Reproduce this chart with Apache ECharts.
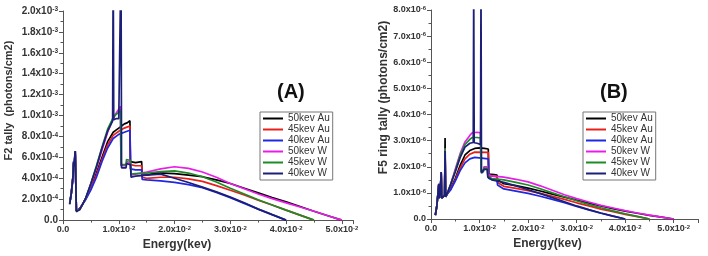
<!DOCTYPE html>
<html><head><meta charset="utf-8">
<script src="https://cdn.jsdelivr.net/npm/echarts@6/dist/echarts.min.js"></script>
<style>html,body{margin:0;padding:0;background:#fff}#c{width:708px;height:256px}</style>
</head><body><div id="c"></div>
<script>
const NAMES = ['50kev Au','45kev Au','40kev Au','50kev W','45kev W','40kev W'];
const COLORS = ['#000000','#e8201c','#1f28e0','#e81ee8','#1e8a28','#1c1f78'];
const X_TICKS = ['0.0','1.0x10^-2','2.0x10^-2','3.0x10^-2','4.0x10^-2','5.0x10^-2'];
const Y_TICKS_A = ['0.0','2.0x10^-4','4.0x10^-4','6.0x10^-4','8.0x10^-4','1.0x10^-3','1.2x10^-3','1.4x10^-3','1.6x10^-3','1.8x10^-3','2.0x10^-3'];
const Y_TICKS_B = ['0.0','1.0x10^-6','2.0x10^-6','3.0x10^-6','4.0x10^-6','5.0x10^-6','6.0x10^-6','7.0x10^-6','8.0x10^-6'];

// Panel A: F2 tally (x: energy, y: photons/cm2)
const a50Au = [[0.0012,1.6e-4],[0.0015,2.6e-4],[0.0018,4.2e-4],[0.0019,5.5e-4],[0.002,5.0e-4],[0.0021,6.0e-4],[0.0022,6.6e-4],[0.0023,3.5e-4],[0.0024,0.9e-4],[0.0027,0.9e-4],[0.003,1.1e-4],[0.0035,1.5e-4],[0.004,2.0e-4],[0.005,3.1e-4],[0.006,4.5e-4],[0.007,6.0e-4],[0.008,7.5e-4],[0.009,8.4e-4],[0.0095,8.6e-4],[0.01,8.8e-4],[0.0105,9.0e-4],[0.011,9.2e-4],[0.0115,9.3e-4],[0.012,9.5e-4],[0.0121,5.6e-4],[0.013,5.5e-4],[0.0141,5.6e-4],[0.0142,4.3e-4],[0.015,4.3e-4],[0.0165,4.5e-4],[0.018,4.5e-4],[0.02,4.45e-4],[0.0225,4.3e-4],[0.025,4.15e-4],[0.0275,3.85e-4],[0.03,3.5e-4],[0.0325,3.05e-4],[0.035,2.6e-4],[0.0375,2.15e-4],[0.04,1.75e-4],[0.0425,1.3e-4],[0.045,0.85e-4],[0.0475,0.42e-4],[0.05,0]];
const a45Au = [[0.0012,1.6e-4],[0.0015,2.6e-4],[0.0018,4.2e-4],[0.0019,5.4e-4],[0.002,5.0e-4],[0.0021,5.8e-4],[0.0022,6.2e-4],[0.0023,3.4e-4],[0.0024,0.9e-4],[0.0027,0.9e-4],[0.003,1.1e-4],[0.0035,1.5e-4],[0.004,2.0e-4],[0.005,3.0e-4],[0.006,4.3e-4],[0.007,5.8e-4],[0.008,7.2e-4],[0.009,8.1e-4],[0.01,8.5e-4],[0.011,8.8e-4],[0.012,9.0e-4],[0.0121,5.3e-4],[0.013,5.2e-4],[0.0141,5.2e-4],[0.0142,4.1e-4],[0.015,4.0e-4],[0.0175,4.1e-4],[0.02,4.1e-4],[0.0225,3.95e-4],[0.025,3.7e-4],[0.0275,3.3e-4],[0.03,2.85e-4],[0.0325,2.4e-4],[0.035,1.9e-4],[0.0375,1.45e-4],[0.04,0.95e-4],[0.0425,0.48e-4],[0.045,0]];
const a40Au = [[0.0012,1.6e-4],[0.0015,2.6e-4],[0.0018,4.2e-4],[0.0019,5.6e-4],[0.002,5.1e-4],[0.0021,5.9e-4],[0.0022,6.5e-4],[0.0023,3.5e-4],[0.0024,0.9e-4],[0.0027,0.9e-4],[0.003,1.1e-4],[0.0035,1.5e-4],[0.004,1.9e-4],[0.005,2.9e-4],[0.006,4.1e-4],[0.007,5.6e-4],[0.008,6.9e-4],[0.009,7.8e-4],[0.01,8.2e-4],[0.011,8.4e-4],[0.012,8.6e-4],[0.0121,4.9e-4],[0.013,4.8e-4],[0.0141,4.8e-4],[0.0142,3.9e-4],[0.015,3.85e-4],[0.0175,3.75e-4],[0.02,3.6e-4],[0.0225,3.4e-4],[0.025,3.1e-4],[0.0275,2.65e-4],[0.03,2.15e-4],[0.0325,1.6e-4],[0.035,1.05e-4],[0.0375,0.52e-4],[0.04,0]];
const a50W = [[0.0012,1.6e-4],[0.0015,2.6e-4],[0.0018,4.2e-4],[0.0019,5.4e-4],[0.002,5.0e-4],[0.0021,5.8e-4],[0.0022,6.3e-4],[0.0023,3.4e-4],[0.0024,0.9e-4],[0.0027,0.9e-4],[0.003,1.0e-4],[0.0035,1.5e-4],[0.004,2.0e-4],[0.005,3.4e-4],[0.006,5.0e-4],[0.007,6.7e-4],[0.008,8.4e-4],[0.009,9.7e-4],[0.0095,1.02e-3],[0.01,1.06e-3],[0.0103,1.09e-3],[0.0104,5.2e-4],[0.0113,5.2e-4],[0.0114,5.6e-4],[0.0121,5.5e-4],[0.0122,4.3e-4],[0.013,4.4e-4],[0.015,4.6e-4],[0.0175,4.9e-4],[0.02,5.1e-4],[0.0225,4.95e-4],[0.025,4.6e-4],[0.0275,4.1e-4],[0.03,3.5e-4],[0.0325,3.0e-4],[0.035,2.5e-4],[0.0375,2.05e-4],[0.04,1.65e-4],[0.0425,1.25e-4],[0.045,0.85e-4],[0.0475,0.42e-4],[0.05,0]];
const a45W = [[0.0012,1.6e-4],[0.0015,2.6e-4],[0.0018,4.2e-4],[0.0019,5.4e-4],[0.002,5.0e-4],[0.0021,5.8e-4],[0.0022,6.3e-4],[0.0023,3.4e-4],[0.0024,0.9e-4],[0.0027,0.9e-4],[0.003,1.0e-4],[0.0035,1.5e-4],[0.004,2.0e-4],[0.005,3.5e-4],[0.006,5.2e-4],[0.007,7.0e-4],[0.008,8.7e-4],[0.009,9.8e-4],[0.0095,1.01e-3],[0.01,1.03e-3],[0.0103,1.05e-3],[0.0104,5.3e-4],[0.0113,5.3e-4],[0.0114,5.8e-4],[0.0121,5.7e-4],[0.0122,4.4e-4],[0.013,4.45e-4],[0.015,4.5e-4],[0.0175,4.65e-4],[0.02,4.7e-4],[0.0225,4.5e-4],[0.025,4.15e-4],[0.0275,3.65e-4],[0.03,3.05e-4],[0.0325,2.5e-4],[0.035,1.95e-4],[0.0375,1.45e-4],[0.04,0.95e-4],[0.0425,0.48e-4],[0.045,0]];
const a40W = [[0.0012,1.5e-4],[0.0015,2.6e-4],[0.0018,4.2e-4],[0.0019,5.6e-4],[0.002,5.1e-4],[0.0021,6.0e-4],[0.0022,6.6e-4],[0.0023,3.5e-4],[0.0024,0.8e-4],[0.0027,0.9e-4],[0.003,1.0e-4],[0.0035,1.5e-4],[0.004,2.0e-4],[0.005,3.5e-4],[0.006,5.1e-4],[0.007,6.9e-4],[0.008,8.5e-4],[0.0089,9.5e-4],[0.009,2.5e-3],[0.0091,9.6e-4],[0.0095,9.7e-4],[0.01,9.7e-4],[0.0103,9.6e-4],[0.0104,2.5e-3],[0.0105,5.0e-4],[0.0113,5.0e-4],[0.0114,5.4e-4],[0.0121,5.3e-4],[0.0122,4.1e-4],[0.013,4.2e-4],[0.015,4.3e-4],[0.0175,4.4e-4],[0.02,4.0e-4],[0.0225,3.6e-4],[0.025,3.15e-4],[0.0275,2.7e-4],[0.03,2.2e-4],[0.0325,1.65e-4],[0.035,1.05e-4],[0.0375,0.52e-4],[0.04,0]];

// Panel B: F5 ring tally
const b50Au = [[0.0009,0.15e-6],[0.0012,0.5e-6],[0.0014,0.9e-6],[0.0016,1.3e-6],[0.0017,0.8e-6],[0.0019,1.0e-6],[0.0021,1.75e-6],[0.0022,0.8e-6],[0.0025,0.75e-6],[0.0028,0.9e-6],[0.0029,3.1e-6],[0.003,0.85e-6],[0.0035,1.0e-6],[0.004,1.15e-6],[0.005,1.55e-6],[0.006,2.05e-6],[0.007,2.45e-6],[0.008,2.62e-6],[0.009,2.7e-6],[0.01,2.72e-6],[0.011,2.7e-6],[0.0118,2.68e-6],[0.0119,1.72e-6],[0.013,1.7e-6],[0.0136,1.68e-6],[0.0137,1.5e-6],[0.015,1.35e-6],[0.0175,1.28e-6],[0.02,1.18e-6],[0.0225,1.07e-6],[0.025,0.95e-6],[0.0275,0.84e-6],[0.03,0.72e-6],[0.0325,0.61e-6],[0.035,0.5e-6],[0.0375,0.4e-6],[0.04,0.3e-6],[0.0425,0.22e-6],[0.045,0.14e-6],[0.0475,0.07e-6],[0.05,0]];
const b45Au = [[0.0009,0.15e-6],[0.0012,0.5e-6],[0.0014,0.9e-6],[0.0016,1.3e-6],[0.0017,0.8e-6],[0.0019,1.0e-6],[0.0021,1.75e-6],[0.0022,0.8e-6],[0.0025,0.75e-6],[0.0028,0.9e-6],[0.0029,2.7e-6],[0.003,0.85e-6],[0.0035,1.0e-6],[0.004,1.12e-6],[0.005,1.5e-6],[0.006,1.95e-6],[0.007,2.3e-6],[0.008,2.48e-6],[0.009,2.56e-6],[0.0118,2.55e-6],[0.0119,1.65e-6],[0.0136,1.62e-6],[0.0137,1.4e-6],[0.015,1.25e-6],[0.0175,1.17e-6],[0.02,1.08e-6],[0.0225,0.98e-6],[0.025,0.87e-6],[0.0275,0.75e-6],[0.03,0.62e-6],[0.0325,0.5e-6],[0.035,0.38e-6],[0.0375,0.28e-6],[0.04,0.18e-6],[0.0425,0.09e-6],[0.045,0]];
const b40Au = [[0.0009,0.15e-6],[0.0012,0.5e-6],[0.0014,0.9e-6],[0.0016,1.35e-6],[0.0017,0.8e-6],[0.0019,1.0e-6],[0.0021,1.8e-6],[0.0022,0.8e-6],[0.0025,0.75e-6],[0.0028,0.9e-6],[0.0029,2.5e-6],[0.003,0.85e-6],[0.0035,1.0e-6],[0.004,1.1e-6],[0.005,1.45e-6],[0.006,1.85e-6],[0.007,2.15e-6],[0.008,2.3e-6],[0.009,2.36e-6],[0.0118,2.3e-6],[0.0119,1.55e-6],[0.0136,1.5e-6],[0.0137,1.3e-6],[0.015,1.15e-6],[0.0175,1.07e-6],[0.02,0.98e-6],[0.0225,0.87e-6],[0.025,0.75e-6],[0.0275,0.62e-6],[0.03,0.48e-6],[0.0325,0.35e-6],[0.035,0.22e-6],[0.0375,0.11e-6],[0.04,0]];
const b50W = [[0.0009,0.15e-6],[0.0012,0.5e-6],[0.0014,0.9e-6],[0.0016,1.3e-6],[0.0017,0.8e-6],[0.0019,1.0e-6],[0.0021,1.75e-6],[0.0022,0.8e-6],[0.0025,0.75e-6],[0.0028,0.9e-6],[0.0029,2.7e-6],[0.003,0.85e-6],[0.0035,1.05e-6],[0.004,1.3e-6],[0.005,1.9e-6],[0.006,2.5e-6],[0.007,2.95e-6],[0.008,3.2e-6],[0.0085,3.3e-6],[0.0095,3.32e-6],[0.0102,3.3e-6],[0.0103,1.85e-6],[0.0108,1.85e-6],[0.0109,2.0e-6],[0.0116,2.0e-6],[0.0117,1.7e-6],[0.012,1.68e-6],[0.0125,1.65e-6],[0.015,1.6e-6],[0.0175,1.52e-6],[0.02,1.42e-6],[0.0225,1.27e-6],[0.025,1.1e-6],[0.0275,0.93e-6],[0.03,0.78e-6],[0.0325,0.65e-6],[0.035,0.52e-6],[0.0375,0.42e-6],[0.04,0.32e-6],[0.0425,0.23e-6],[0.045,0.15e-6],[0.0475,0.07e-6],[0.05,0]];
const b45W = [[0.0009,0.15e-6],[0.0012,0.5e-6],[0.0014,0.9e-6],[0.0016,1.3e-6],[0.0017,0.8e-6],[0.0019,1.0e-6],[0.0021,1.75e-6],[0.0022,0.8e-6],[0.0025,0.75e-6],[0.0028,0.9e-6],[0.0029,2.7e-6],[0.003,0.85e-6],[0.0035,1.05e-6],[0.004,1.3e-6],[0.005,1.85e-6],[0.006,2.45e-6],[0.007,2.85e-6],[0.008,3.05e-6],[0.0085,3.12e-6],[0.0095,3.12e-6],[0.0102,3.1e-6],[0.0103,1.8e-6],[0.0108,1.8e-6],[0.0109,1.95e-6],[0.0116,1.95e-6],[0.0117,1.65e-6],[0.0125,1.55e-6],[0.015,1.5e-6],[0.0175,1.4e-6],[0.02,1.3e-6],[0.0225,1.16e-6],[0.025,1.0e-6],[0.0275,0.85e-6],[0.03,0.7e-6],[0.0325,0.56e-6],[0.035,0.43e-6],[0.0375,0.31e-6],[0.04,0.2e-6],[0.0425,0.1e-6],[0.045,0]];
const b40W = [[0.0009,0.15e-6],[0.0012,0.5e-6],[0.0014,0.9e-6],[0.0016,1.35e-6],[0.0017,0.8e-6],[0.0019,1.0e-6],[0.0021,1.8e-6],[0.0022,0.8e-6],[0.0025,0.75e-6],[0.0028,0.9e-6],[0.0029,2.6e-6],[0.003,0.85e-6],[0.0035,1.05e-6],[0.004,1.3e-6],[0.005,1.8e-6],[0.006,2.35e-6],[0.007,2.75e-6],[0.008,2.9e-6],[0.0087,2.93e-6],[0.0088,9e-6],[0.0089,2.92e-6],[0.0095,2.9e-6],[0.0102,2.85e-6],[0.0103,9e-6],[0.0104,1.75e-6],[0.0108,1.75e-6],[0.0109,1.9e-6],[0.0116,1.9e-6],[0.0117,1.6e-6],[0.0125,1.5e-6],[0.015,1.4e-6],[0.0175,1.27e-6],[0.02,1.12e-6],[0.0225,0.97e-6],[0.025,0.82e-6],[0.0275,0.66e-6],[0.03,0.5e-6],[0.0325,0.36e-6],[0.035,0.23e-6],[0.0375,0.11e-6],[0.04,0]];

const SERIES_A = [a50Au, a45Au, a40Au, a50W, a45W, a40W];
const SERIES_B = [b50Au, b45Au, b40Au, b50W, b45W, b40W];

const FONT = 'Liberation Sans, Arial, sans-serif';
function rich(s){ const p = s.split('^'); return p.length>1 ? '{b|'+p[0]+'}{s|'+p[1]+'}' : '{b|'+p[0]+'}'; }
function fmt(ticks, step){ return function(v){ const i = Math.round(v/step); if (Math.abs(v - i*step) > step*1e-6) return ''; return ticks[i] ? rich(ticks[i]) : ''; }; }
function richStyle(fs){ return {
  b: {fontSize: fs, fontWeight: 'bold', color: '#333', fontFamily: FONT},
  s: {fontSize: Math.round(fs*0.65*10)/10, fontWeight: 'bold', color: '#333', fontFamily: FONT, verticalAlign: 'top'}
};}
function xAx(gi, max, pad, fs){ return {
  type:'value', gridIndex: gi, min: 0, max: max, interval: 0.01,
  axisLine:{show:true, lineStyle:{color:'#555', width:1}},
  axisTick:{show:true, length:4, lineStyle:{color:'#555'}},
  minorTick:{show:true, splitNumber:2, length:2.5, lineStyle:{color:'#555'}},
  splitLine:{show:false},
  axisLabel:{formatter: fmt(X_TICKS, 0.01), rich: richStyle(fs), margin: 5},
  name:'Energy(kev)', nameLocation:'middle', nameGap: 18,
  nameTextStyle:{fontSize:12, fontWeight:'bold', color:'#333', fontFamily: FONT, padding:[0,pad,0,0]}
};}
function yAx(gi, max, step, ticks, name, gap, fs, pad, lfs){ return {
  type:'value', gridIndex: gi, min: 0, max: max, interval: step,
  axisLine:{show:true, lineStyle:{color:'#555', width:1}},
  axisTick:{show:true, length:4, lineStyle:{color:'#555'}},
  minorTick:{show:true, splitNumber:2, length:2.5, lineStyle:{color:'#555'}},
  splitLine:{show:false},
  axisLabel:{formatter: fmt(ticks, step), rich: richStyle(lfs), margin: 5},
  name: name, nameLocation:'middle', nameGap: gap,
  nameTextStyle:{fontSize:fs, fontWeight:'bold', color:'#333', fontFamily: FONT, padding:[0,0,0,pad]}
};}

const series = [];
SERIES_A.forEach((d,i)=>series.push({name:NAMES[i], type:'line', xAxisIndex:0, yAxisIndex:0, data:d, showSymbol:false, symbol:'none', color:COLORS[i], lineStyle:{width:1.7}}));
SERIES_B.forEach((d,i)=>series.push({name:NAMES[i], type:'line', xAxisIndex:1, yAxisIndex:1, data:d, showSymbol:false, symbol:'none', color:COLORS[i], lineStyle:{width:1.7}}));

const legendBase = {orient:'vertical', data:NAMES, icon:'rect', itemWidth:20, itemHeight:2, itemGap:0,
  borderColor:'#777', borderWidth:1, borderRadius:0, selectedMode:false,
  textStyle:{fontSize:10, color:'#333', fontFamily: FONT, lineHeight:11}};

const option = {
  animation:false,
  backgroundColor:'#fff',
  grid:[{left:63, top:11, width:290, height:212}, {left:431, top:10, width:267, height:209}],
  xAxis:[xAx(0, 0.052, 62, 9), xAx(1, 0.055, 34, 9)],
  yAxis:[yAx(0, 2e-3, 2e-4, Y_TICKS_A, 'F2 tally  (photons/cm2)', 49, 11, 30, 10),
         yAx(1, 8e-6, 1e-6, Y_TICKS_B, 'F5 ring tally (photons/cm2)', 41, 12, 34, 9)],
  legend:[Object.assign({left:260, top:112, padding:[1,3,1,3]}, legendBase),
          Object.assign({left:583, top:112, padding:[1,3,1,3]}, legendBase)],
  graphic:[
    {type:'text', left:277, top:82, style:{text:'(A)', fontSize:20, fontWeight:'bold', fill:'#111', fontFamily: FONT}},
    {type:'text', left:600, top:82, style:{text:'(B)', fontSize:20, fontWeight:'bold', fill:'#111', fontFamily: FONT}}
  ],
  series: series
};
const chart = echarts.init(document.getElementById('c'), null, {renderer:'canvas'});
chart.setOption(option);
</script>
</body></html>
